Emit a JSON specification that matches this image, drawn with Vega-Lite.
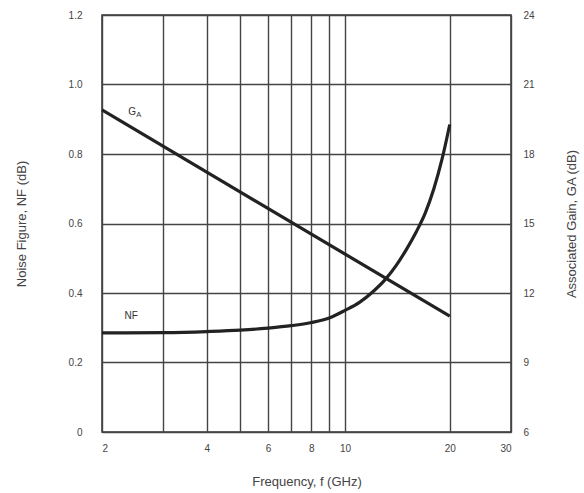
{
  "$schema": "https://vega.github.io/schema/vega-lite/v6.json",
  "autosize": "none",
  "width": 409,
  "height": 417,
  "padding": {"left": 102, "top": 15, "right": 73, "bottom": 61},
  "background": "white",
  "config": {
    "view": {"stroke": "#333", "strokeWidth": 1.5},
    "font": "Liberation Sans",
    "axis": {"labelFont": "Liberation Sans", "titleFont": "Liberation Sans", "labelColor": "#444", "titleColor": "#444", "titleFontWeight": "normal", "labelFontSize": 10, "titleFontSize": 13, "ticks": false, "domain": false}
  },
  "datasets": {
    "nf": [
      {"f": 2, "nf": 0.285}, {"f": 3, "nf": 0.286}, {"f": 4, "nf": 0.289}, {"f": 5, "nf": 0.293},
      {"f": 6, "nf": 0.299}, {"f": 7, "nf": 0.306}, {"f": 8, "nf": 0.315}, {"f": 9, "nf": 0.328},
      {"f": 10, "nf": 0.35}, {"f": 11, "nf": 0.373}, {"f": 12, "nf": 0.403}, {"f": 13, "nf": 0.437},
      {"f": 14, "nf": 0.478}, {"f": 15, "nf": 0.525}, {"f": 16, "nf": 0.575}, {"f": 17, "nf": 0.63},
      {"f": 18, "nf": 0.70}, {"f": 19, "nf": 0.785}, {"f": 20, "nf": 0.885}
    ],
    "ga": [{"f": 2, "ga": 19.9}, {"f": 20, "ga": 11.0}],
    "labels": [
      {"f": 2.32, "nf": 0.335, "t": "NF"},
      {"f": 2.38, "nf": 0.92, "t": "G"}
    ],
    "sub": [{"f": 2.38, "nf": 0.915, "t": "A"}]
  },
  "layer": [
    {
      "layer": [
        {
          "data": {"name": "nf"},
          "mark": {"type": "line", "color": "#222", "strokeWidth": 3.2, "interpolate": "monotone"},
          "encoding": {
            "x": {"field": "f", "type": "quantitative", "scale": {"type": "log", "domain": [2, 30], "nice": false},
              "axis": {"values": [2, 3, 4, 5, 6, 7, 8, 9, 10, 20, 30], "labelExpr": "indexof([3,5,7,9], datum.value) >= 0 ? '' : datum.label", "format": "d", "grid": true, "gridColor": "#444", "gridWidth": 1.4, "gridOpacity": 1, "labelPadding": 11, "title": "Frequency, f (GHz)", "titlePadding": 22}},
            "y": {"field": "nf", "type": "quantitative", "scale": {"domain": [0, 1.2], "nice": false},
              "axis": {"values": [0, 0.2, 0.4, 0.6, 0.8, 1.0, 1.2], "labelExpr": "datum.value == 0 ? '0' : format(datum.value, '.1f')", "grid": true, "gridColor": "#444", "gridWidth": 1.4, "gridOpacity": 1, "labelPadding": 20, "title": "Noise Figure, NF (dB)", "titlePadding": 40}}
          }
        },
        {
          "data": {"name": "labels"},
          "mark": {"type": "text", "align": "left", "baseline": "middle", "color": "#333", "fontSize": 10},
          "encoding": {
            "x": {"field": "f", "type": "quantitative"},
            "y": {"field": "nf", "type": "quantitative"},
            "text": {"field": "t"}
          }
        },
        {
          "data": {"name": "sub"},
          "mark": {"type": "text", "align": "left", "baseline": "middle", "color": "#333", "fontSize": 7.5, "dx": 8, "dy": 1},
          "encoding": {
            "x": {"field": "f", "type": "quantitative"},
            "y": {"field": "nf", "type": "quantitative"},
            "text": {"field": "t"}
          }
        }
      ]
    },
    {
      "data": {"name": "ga"},
      "mark": {"type": "line", "color": "#222", "strokeWidth": 3.2},
      "encoding": {
        "x": {"field": "f", "type": "quantitative"},
        "y": {"field": "ga", "type": "quantitative", "scale": {"domain": [6, 24], "nice": false},
          "axis": {"orient": "right", "values": [6, 9, 12, 15, 18, 21, 24], "grid": false, "labelPadding": 12, "title": "Associated Gain, GA (dB)", "titleAngle": 270, "titleBaseline": "bottom", "titlePadding": 44}}
      }
    }
  ],
  "resolve": {"scale": {"y": "independent"}}
}
